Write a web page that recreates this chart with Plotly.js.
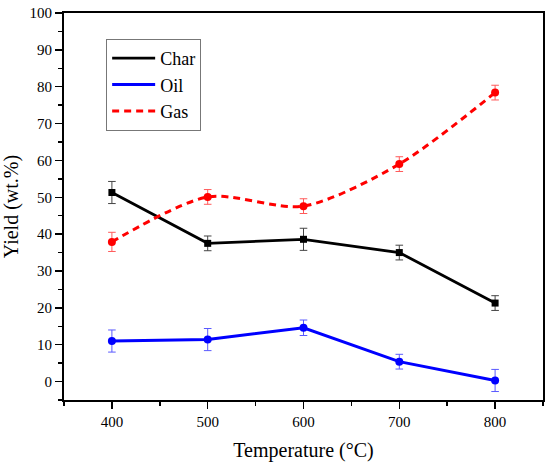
<!DOCTYPE html>
<html>
<head>
<meta charset="utf-8">
<script src="https://cdn.plot.ly/plotly-3.0.1.min.js"></script>
<style>html,body{margin:0;padding:0;background:#fff;}#chart{width:550px;height:467px;}</style>
</head>
<body>
<div id="chart"></div>
<script>
const temperature = [400, 500, 600, 700, 800];
const charYield = [51.3, 37.5, 38.6, 35.0, 21.3];
const charErr = [3.0, 2.0, 3.0, 2.0, 2.0];
const oilYield = [11.0, 11.4, 14.6, 5.4, 0.3];
const oilErr = [3.0, 3.0, 2.1, 2.0, 3.0];
const gasYield = [37.9, 50.1, 47.6, 59.0, 78.4];
const gasErr = [2.6, 2.0, 2.0, 2.0, 2.0];
const seriesNames = ['Char', 'Oil', 'Gas'];

const font = 'Liberation Serif';

const traces = [
  {
    x: temperature, y: charYield, mode: 'lines+markers', name: seriesNames[0], showlegend: false,
    line: {color: '#000000', width: 2.8},
    marker: {symbol: 'square', size: 7, color: '#000000'},
    error_y: {type: 'data', array: charErr, visible: true, color: '#444444', thickness: 1, width: 3.8}
  },
  {
    x: temperature, y: oilYield, mode: 'lines+markers', name: seriesNames[1], showlegend: false,
    line: {color: '#0000ff', width: 3},
    marker: {symbol: 'circle', size: 8, color: '#0000ff'},
    error_y: {type: 'data', array: oilErr, visible: true, color: '#5a5aff', thickness: 1, width: 3.8}
  },
  {
    x: temperature, y: gasYield, mode: 'lines+markers', name: seriesNames[2], showlegend: false,
    line: {color: '#ff0000', width: 3, dash: '7px,5px', shape: 'spline', smoothing: 0.8},
    marker: {symbol: 'circle', size: 8, color: '#ff0000'},
    error_y: {type: 'data', array: gasErr, visible: true, color: '#ff5a5a', thickness: 1, width: 3.8}
  },
  {x: [null], y: [null], mode: 'lines', name: seriesNames[0], line: {color: '#000000', width: 2.8}},
  {x: [null], y: [null], mode: 'lines', name: seriesNames[1], line: {color: '#0000ff', width: 3}},
  {x: [null], y: [null], mode: 'lines', name: seriesNames[2], line: {color: '#ff0000', width: 3, dash: '7px,5px'}}
];

const layout = {
  width: 550, height: 467,
  margin: {l: 64, r: 7, t: 13, b: 67},
  paper_bgcolor: '#ffffff', plot_bgcolor: '#ffffff',
  font: {family: font, color: '#000000', size: 15},
  showlegend: true,
  legend: {
    x: 0.088, y: 0.933, xanchor: 'left', yanchor: 'top',
    bgcolor: 'rgba(255,255,255,1)', bordercolor: '#777777', borderwidth: 1,
    font: {family: font, size: 18, color: '#000000'},
    itemwidth: 43, tracegroupgap: 0
  },
  xaxis: {
    range: [350, 850], tickmode: 'linear', tick0: 400, dtick: 100,
    ticks: 'outside', ticklen: 7, tickwidth: 1.5, tickcolor: '#000',
    minor: {dtick: 50, tick0: 350, ticks: 'outside', ticklen: 4, tickwidth: 1.5, tickcolor: '#000', showgrid: false},
    showline: true, linecolor: '#000', linewidth: 2, mirror: true,
    showgrid: false, zeroline: false,
    tickfont: {family: font, size: 15},
    title: {text: 'Temperature (°C)', font: {family: font, size: 20}, standoff: 14}
  },
  yaxis: {
    range: [-5, 100], tickmode: 'linear', tick0: 0, dtick: 10,
    ticks: 'outside', ticklen: 7, tickwidth: 1.5, tickcolor: '#000',
    minor: {dtick: 5, tick0: 0, ticks: 'outside', ticklen: 4, tickwidth: 1.5, tickcolor: '#000', showgrid: false},
    showline: true, linecolor: '#000', linewidth: 2, mirror: true,
    showgrid: false, zeroline: false,
    tickfont: {family: font, size: 15},
    title: {text: 'Yield (wt.%)', font: {family: font, size: 20}, standoff: 12}
  }
};

Plotly.newPlot('chart', traces, layout, {displayModeBar: false, staticPlot: true});
</script>
</body>
</html>
